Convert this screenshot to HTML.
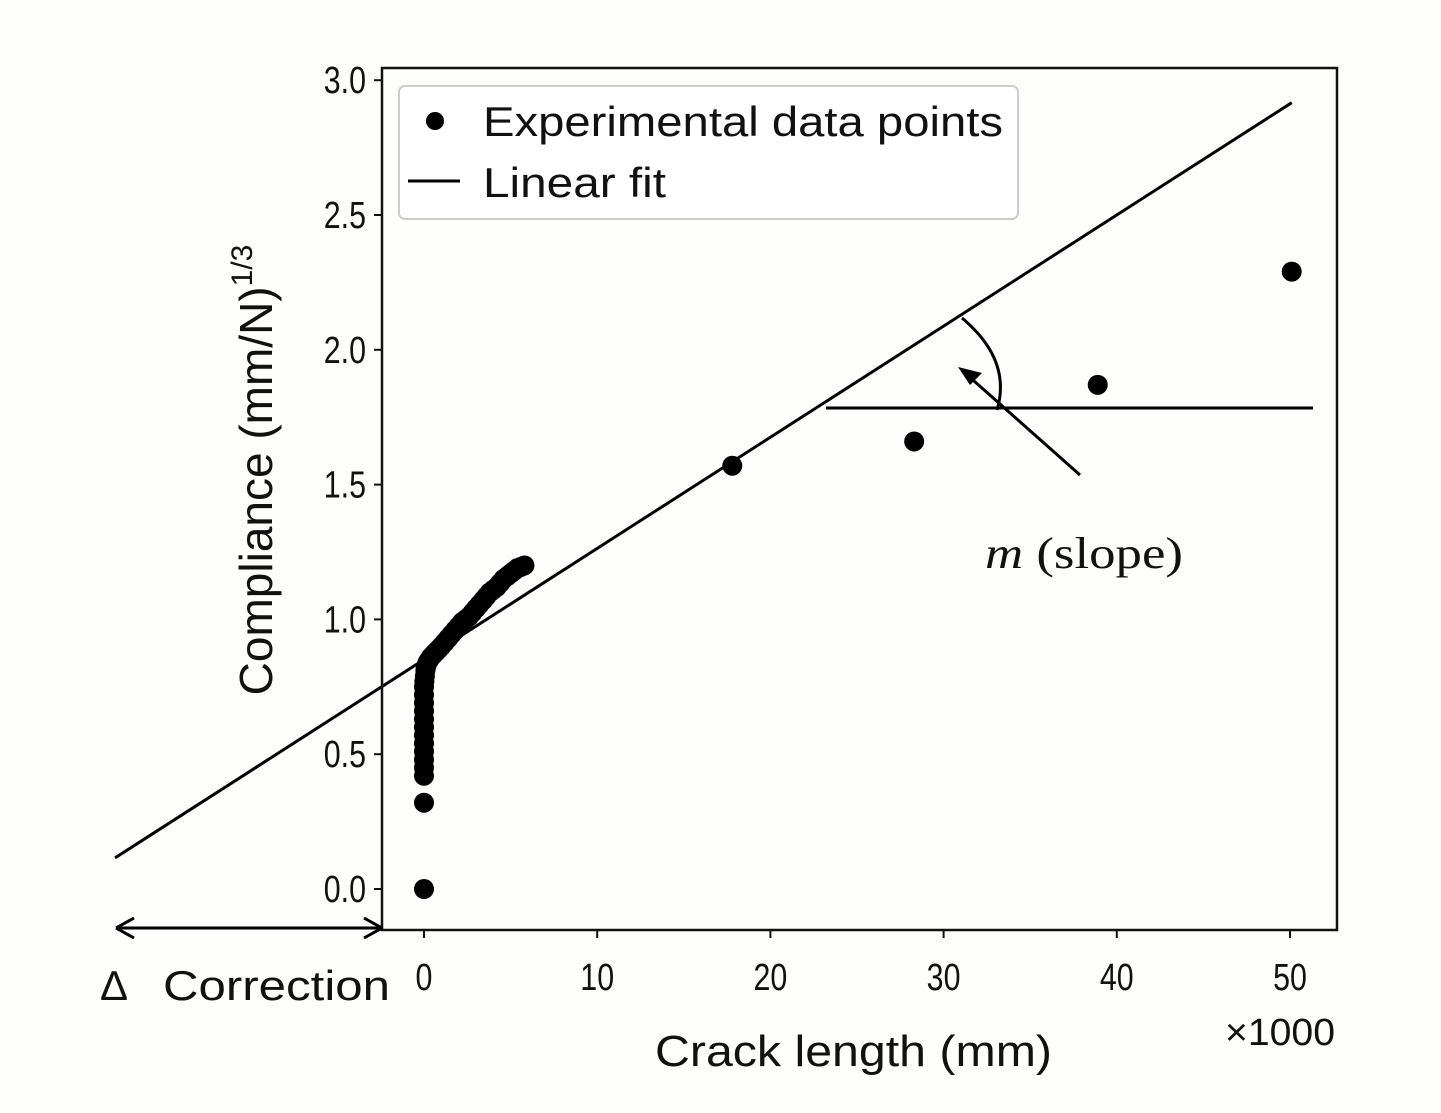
<!DOCTYPE html>
<html><head><meta charset="utf-8"><style>
body{margin:0;background:#fdfdfb;}
svg{display:block;font-family:"Liberation Sans","DejaVu Sans",sans-serif;}
</style></head><body>
<svg id="c" width="1441" height="1113">
<rect x="0" y="0" width="1441" height="1113" fill="#fdfdfb"/>
<g id="marks"></g>
<rect x="382" y="68" width="955" height="862" fill="none" stroke="#111" stroke-width="2.5"/>
<g>
<rect x="399" y="86" width="619" height="133" rx="6" fill="#fff" stroke="#ccc" stroke-width="2"/>
<circle cx="435" cy="121" r="9" fill="#000"/>
<text x="483" y="136" font-size="42" textLength="520" lengthAdjust="spacingAndGlyphs" fill="#111">Experimental data points</text>
<line x1="408" y1="181" x2="460" y2="181" stroke="#000" stroke-width="3"/>
<text x="483" y="197" font-size="42" textLength="183" lengthAdjust="spacingAndGlyphs" fill="#111">Linear fit</text>
</g>
<text transform="translate(272,470) rotate(-90)" text-anchor="middle" font-size="46" fill="#111">Compliance (mm/N)<tspan dy="-20" font-size="30">1/3</tspan></text>
<text x="655" y="1066" font-size="44" textLength="397" lengthAdjust="spacingAndGlyphs" fill="#111">Crack length (mm)</text>
<text x="1225" y="1045" font-size="38" textLength="110" lengthAdjust="spacingAndGlyphs" fill="#111">×1000</text>
<text x="100" y="1000" font-size="42" fill="#111">Δ</text>
<text x="163" y="1000" font-size="42" textLength="227" lengthAdjust="spacingAndGlyphs" fill="#111">Correction</text>
<g>
<line x1="118" y1="928" x2="380" y2="928" stroke="#000" stroke-width="3"/>
<path d="M116,928 l18,-10 M116,928 l18,10 M382,928 l-18,-10 M382,928 l-18,10" stroke="#000" stroke-width="3" fill="none"/>
</g>
<g>
<line x1="826" y1="408" x2="1313" y2="408" stroke="#000" stroke-width="3"/>
<path d="M962,318 Q1012,360 997,410" stroke="#000" stroke-width="3" fill="none"/>
<line x1="1080" y1="475" x2="965" y2="373" stroke="#000" stroke-width="3"/>
<path d="M958,367 l24,6 l-12,12 z" fill="#000"/>
<text x="985" y="568" font-family="Liberation Serif,serif" font-size="44" textLength="198" lengthAdjust="spacingAndGlyphs" fill="#111"><tspan font-style="italic">m</tspan> (slope)</text>
</g>
<g id="axes"></g>
</svg>
<script>
const xTicks=[0,10,20,30,40,50];
const yTicks=[0.0,0.5,1.0,1.5,2.0,2.5,3.0];
const ptX=[0,0,0,0,0,0,0,0,0,0,0,0,0,0,0.02,0.05,0.08,0.1,0.15,0.2,0.3,0.4,0.55,0.7,0.85,1,1.2,1.4,1.6,1.8,2,2.2,2.4,2.6,2.8,3,3.2,3.4,3.6,3.8,4,4.2,4.4,4.6,4.8,5,5.2,5.4,5.6,5.8,17.8,28.3,38.9,50.1];
const ptY=[0,0.32,0.42,0.45,0.48,0.51,0.54,0.57,0.6,0.63,0.66,0.69,0.72,0.75,0.77,0.79,0.81,0.82,0.83,0.84,0.85,0.86,0.87,0.88,0.89,0.9,0.915,0.93,0.945,0.96,0.975,0.99,1.0,1.01,1.025,1.04,1.055,1.07,1.085,1.1,1.11,1.12,1.135,1.15,1.16,1.17,1.18,1.19,1.195,1.2,1.57,1.66,1.87,2.29];
const fitSlope=[0.04123];
const fitIntercept=[0.851];
const fitRange=[-17.84,50.1];
const sx=v=>424+v*17.32;
const sy=v=>889-v*269.6;
const NS='http://www.w3.org/2000/svg';
const marks=document.getElementById('marks'),axes=document.getElementById('axes');
function mk(tag,attrs,parent){const e=document.createElementNS(NS,tag);for(const k in attrs)e.setAttribute(k,attrs[k]);parent.appendChild(e);return e;}
const fl=mk('line',{x1:sx(fitRange[0]),y1:sy(fitIntercept[0]+fitSlope[0]*fitRange[0]),x2:sx(fitRange[1]),y2:sy(fitIntercept[0]+fitSlope[0]*fitRange[1]),stroke:'#000','stroke-width':3},marks);


ptX.forEach((x,i)=>{const c=mk('circle',{cx:sx(x),cy:sy(ptY[i]),r:10,fill:'#000'},marks);

});
xTicks.forEach(t=>{const x=sx(t);mk('line',{x1:x,y1:930,x2:x,y2:938,stroke:'#111','stroke-width':2},axes);
const tx=mk('text',{x:x,y:990,'text-anchor':'middle','font-size':38,fill:'#111',transform:`translate(${x},0) scale(0.8,1) translate(${-x},0)`},axes);tx.textContent=t;

});
yTicks.forEach(t=>{const y=sy(t);mk('line',{x1:374,y1:y,x2:382,y2:y,stroke:'#111','stroke-width':2},axes);
const tx=mk('text',{x:366,y:y+13,'text-anchor':'end','font-size':38,fill:'#111',transform:'translate(366,0) scale(0.8,1) translate(-366,0)'},axes);tx.textContent=t.toFixed(1);

});
</script>
</body></html>
